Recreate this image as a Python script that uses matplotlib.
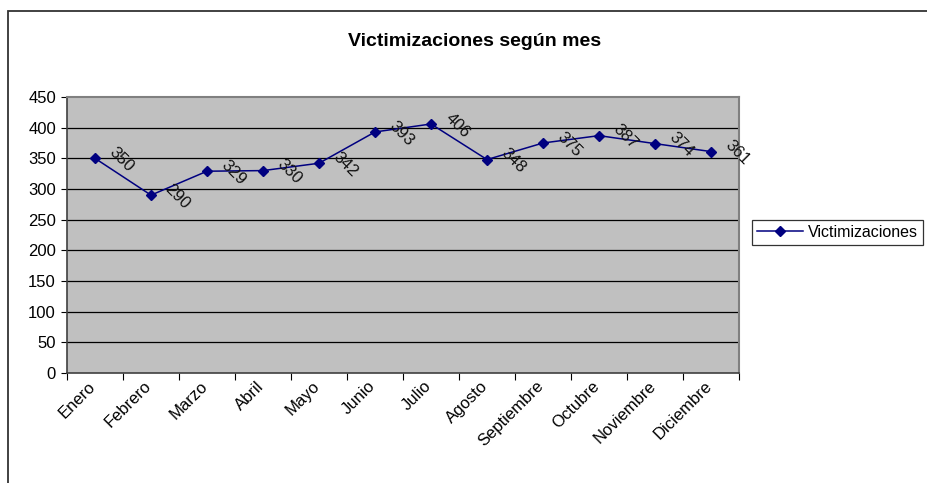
import matplotlib.pyplot as plt
from matplotlib.patches import Rectangle
from matplotlib.transforms import ScaledTranslation
import numpy as np

plt.rcParams['font.family'] = ['Liberation Sans', 'DejaVu Sans']

meses = ["Enero", "Febrero", "Marzo", "Abril", "Mayo", "Junio", "Julio",
         "Agosto", "Septiembre", "Octubre", "Noviembre", "Diciembre"]
victimizaciones = [350, 290, 329, 330, 342, 393, 406, 348, 375, 387, 374, 361]
y_ticks = [0, 50, 100, 150, 200, 250, 300, 350, 400, 450]

fig = plt.figure(figsize=(9.28, 4.83), dpi=100)

# chart border (extends past the right and bottom edges)
fig.patches.append(Rectangle((8 / 928, -0.1), 1.0, 1 - 10.5 / 483 + 0.1,
                             transform=fig.transFigure, fill=False,
                             edgecolor='#333333', linewidth=1.3))

ax = fig.add_axes([67 / 928, 1 - 373 / 483, (739 - 67) / 928, (373 - 97) / 483])
ax.set_facecolor('#c0c0c0')

x = np.arange(len(meses))
ax.plot(x, victimizaciones, color='#000080', marker='D', markersize=5.5,
        linewidth=1.1, label="Victimizaciones", zorder=3)

for xi, v in zip(x, victimizaciones):
    ax.annotate(str(v), (xi, v), xytext=(19, -1), textcoords='offset points',
                ha='center', va='center', rotation=-45, fontsize=12,
                color='#111111', annotation_clip=False, zorder=4)

ax.set_xlim(-0.5, len(meses) - 0.5)
ax.set_ylim(0, 450)
ax.set_yticks(y_ticks)
ax.tick_params(axis='y', labelsize=12, length=4, width=0.8, pad=4)
for yv in y_ticks[1:-1]:
    ax.axhline(yv, color='black', linewidth=0.9, zorder=1)

ax.set_xticks(np.arange(-0.5, len(meses)), minor=False)
ax.set_xticklabels([])
ax.set_xticks(x, minor=True)
ax.set_xticklabels(meses, minor=True, rotation=45, ha='right',
                   rotation_mode='anchor', fontsize=12)
ax.tick_params(axis='x', which='major', length=5, width=0.8, direction='out')
ax.tick_params(axis='x', which='minor', length=0, pad=4)
shift = ScaledTranslation(-7 / 100, 0, fig.dpi_scale_trans)
for lbl in ax.get_xticklabels(minor=True):
    lbl.set_transform(lbl.get_transform() + shift)

for s in ['top', 'right']:
    ax.spines[s].set_color('#808080')
    ax.spines[s].set_linewidth(1.5)
for s in ['bottom', 'left']:
    ax.spines[s].set_color('#404040')
    ax.spines[s].set_linewidth(1.2)

fig.text(475 / 928, 1 - 42 / 483, "Victimizaciones según mes", fontsize=14,
         fontweight='bold', ha='center', va='center')

leg = fig.legend(loc='upper left', bbox_to_anchor=(752 / 928, 1 - 220 / 483),
                 fontsize=11.5, frameon=True, fancybox=False, borderaxespad=0,
                 handlelength=2.9, borderpad=0.3, handletextpad=0.3)
leg.get_frame().set_edgecolor('black')
leg.get_frame().set_linewidth(0.9)

fig.savefig("out.png", dpi=100)
